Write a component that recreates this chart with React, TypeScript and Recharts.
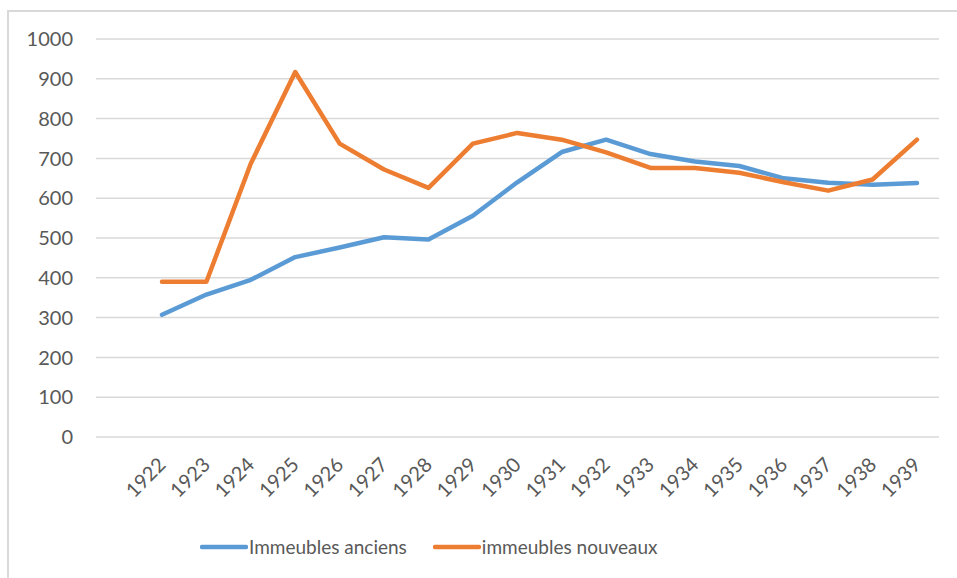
import { LineChart, Line, XAxis, YAxis, CartesianGrid } from "recharts";

const YEARS = [
  "1922", "1923", "1924", "1925", "1926", "1927", "1928", "1929", "1930",
  "1931", "1932", "1933", "1934", "1935", "1936", "1937", "1938", "1939",
];
const ANCIENS = [307, 358, 395, 452, 476, 502, 496, 556, 640, 716, 747, 711, 692, 681, 650, 639, 634, 638];
const NOUVEAUX = [390, 390, 687, 917, 737, 672, 626, 737, 764, 747, 715, 676, 676, 664, 640, 619, 647, 747];
const Y_TICKS = [0, 100, 200, 300, 400, 500, 600, 700, 800, 900, 1000];

const NAME_ANCIENS = "Immeubles anciens";
const NAME_NOUVEAUX = "immeubles nouveaux";

const BLUE = "#5B9BD5";
const ORANGE = "#ED7D31";
const TEXT = "#595959";
const GRID = "#D9D9D9";
const FONT = "Lato, 'Open Sans', sans-serif";

const data = YEARS.map((year, i) => ({
  year,
  anciens: ANCIENS[i],
  nouveaux: NOUVEAUX[i],
}));

function XTick({ x, y, payload }: any) {
  return (
    <text
      x={0}
      y={0}
      transform={`translate(${x + 5},${y + 29}) rotate(-45)`}
      textAnchor="end"
      fill={TEXT}
      fontSize={20}
      fontFamily={FONT}
    >
      {payload.value}
    </text>
  );
}

function LegendItem({ color, label }: { color: string; label: string }) {
  return (
    <div style={{ display: "flex", alignItems: "center" }}>
      <svg width={48} height={10}>
        <line x1={2} y1={5} x2={46} y2={5} stroke={color} strokeWidth={4.5} strokeLinecap="round" />
      </svg>
      <span style={{ marginLeft: 1, color: TEXT, fontSize: 19, fontFamily: FONT }}>{label}</span>
    </div>
  );
}

export default function App() {
  return (
    <div style={{ position: "absolute", left: 0, top: 0, width: 957, height: 578, overflow: "hidden", background: "#fff" }}>
      <div
        style={{
          position: "absolute",
          left: 7,
          top: 10,
          width: 980,
          height: 600,
          border: `2px solid ${GRID}`,
        }}
      />
      <div style={{ position: "absolute", left: 0, top: 0 }}>
        <LineChart width={957} height={578} data={data} margin={{ top: 39, right: 18, left: 0, bottom: 0 }}>
          <CartesianGrid vertical={false} stroke={GRID} strokeWidth={1.5} />
          <XAxis
            dataKey="year"
            height={141}
            padding={{ left: 66, right: 22 }}
            axisLine={false}
            tickLine={false}
            tickSize={0}
            tickMargin={0}
            interval={0}
            tick={<XTick />}
          />
          <YAxis
            width={96}
            domain={[0, 1000]}
            ticks={Y_TICKS}
            axisLine={false}
            tickLine={false}
            tickSize={0}
            tickMargin={23}
            tick={{ fill: TEXT, fontSize: 20, fontFamily: FONT }}
          />
          <Line
            dataKey="anciens"
            name={NAME_ANCIENS}
            stroke={BLUE}
            strokeWidth={4.5}
            dot={false}
            strokeLinecap="round"
            strokeLinejoin="round"
            isAnimationActive={false}
          />
          <Line
            dataKey="nouveaux"
            name={NAME_NOUVEAUX}
            stroke={ORANGE}
            strokeWidth={4.5}
            dot={false}
            strokeLinecap="round"
            strokeLinejoin="round"
            isAnimationActive={false}
          />
        </LineChart>
      </div>
      <div style={{ position: "absolute", left: 200, top: 535, display: "flex" }}>
        <LegendItem color={BLUE} label={NAME_ANCIENS} />
        <div style={{ width: 26 }} />
        <LegendItem color={ORANGE} label={NAME_NOUVEAUX} />
      </div>
    </div>
  );
}
